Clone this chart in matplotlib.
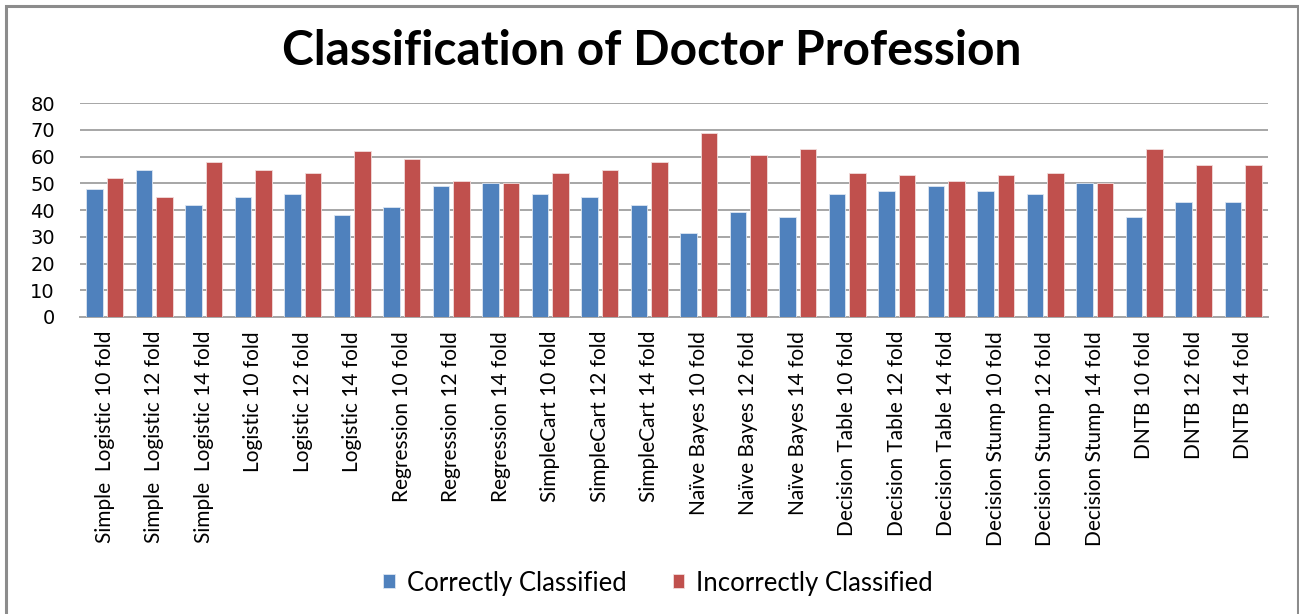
import matplotlib
matplotlib.use("Agg")
import matplotlib.pyplot as plt
import numpy as np
from matplotlib.patches import Rectangle

categories = [
    "Simple  Logistic 10 fold", "Simple  Logistic 12 fold", "Simple  Logistic 14 fold",
    "Logistic 10 fold", "Logistic 12 fold", "Logistic 14 fold",
    "Regression 10 fold", "Regression 12 fold", "Regression 14 fold",
    "SimpleCart 10 fold", "SimpleCart 12 fold", "SimpleCart 14 fold",
    "Naïve Bayes 10 fold", "Naïve Bayes 12 fold", "Naïve Bayes 14 fold",
    "Decision Table 10 fold", "Decision Table 12 fold", "Decision Table 14 fold",
    "Decision Stump 10 fold", "Decision Stump 12 fold", "Decision Stump 14 fold",
    "DNTB 10 fold", "DNTB 12 fold", "DNTB 14 fold",
]
correct = [48, 55, 42, 45, 46, 38, 41, 49, 50, 46, 45, 42,
           31.4, 39.4, 37.3, 46, 47, 49, 47, 46, 50, 37.3, 43, 43]
incorrect = [52, 45, 58, 55, 54, 62, 59, 51, 50, 54, 55, 58,
             68.6, 60.6, 62.7, 54, 53, 51, 53, 54, 50, 62.7, 57, 57]
series_names = ["Correctly Classified", "Incorrectly Classified"]
yticks = [0, 10, 20, 30, 40, 50, 60, 70, 80]
title = "Classification of Doctor Profession"

BLUE = "#4F81BD"
RED = "#C0504D"

W, H = 1299, 614
fig = plt.figure(figsize=(W / 100, H / 100), dpi=100)
fig.patch.set_facecolor("white")

# outer frame
fig.add_artist(Rectangle((6 / W, -0.01), (1297.5 - 6) / W, 1.01 - 6 / H,
                         transform=fig.transFigure, fill=False,
                         edgecolor="#8c8c8c", linewidth=2.2))

ax = fig.add_axes([80 / W, 1 - 317 / H, (1268 - 80) / W, (317 - 103) / H])
x = np.arange(len(categories))
bw = 0.33
ax.bar(x - 0.205, correct, bw, color=BLUE, edgecolor="#dce6f2", linewidth=0.6,
       label=series_names[0], zorder=3)
ax.bar(x + 0.205, incorrect, bw, color=RED, edgecolor="#f2dcdb", linewidth=0.6,
       label=series_names[1], zorder=3)

ax.set_xlim(-0.5, len(categories) - 0.5)
ax.set_ylim(0, 80)
ax.set_yticks(yticks)
ax.set_yticklabels([str(t) for t in yticks], fontsize=14, family="DejaVu Sans")
ax.yaxis.grid(True, color="#a6a6a6", linewidth=1.4, zorder=0)
ax.set_axisbelow(True)
for s in ["top", "right", "left"]:
    ax.spines[s].set_visible(False)
ax.spines["bottom"].set_color("#a6a6a6")
ax.spines["bottom"].set_linewidth(1.4)
ax.tick_params(axis="y", length=0, pad=18)
ax.tick_params(axis="x", length=0, pad=10)
ax.set_xticks(x)
ax.set_xticklabels(categories, rotation=90, fontsize=15, family="Lato",
                   va="top", ha="center")

fig.text(652 / W, 1 - 51 / H, title, fontsize=34.5, fontweight="bold",
         family="Lato", ha="center", va="center")

leg = fig.legend(loc="center", bbox_to_anchor=(658 / W, 1 - 583 / H),
                 ncol=2, frameon=False,
                 prop={"family": "Lato", "size": 18.5},
                 handlelength=0.45, handleheight=0.45, handletextpad=0.45,
                 columnspacing=1.8)

fig.savefig("out.png", dpi=100, facecolor="white")
